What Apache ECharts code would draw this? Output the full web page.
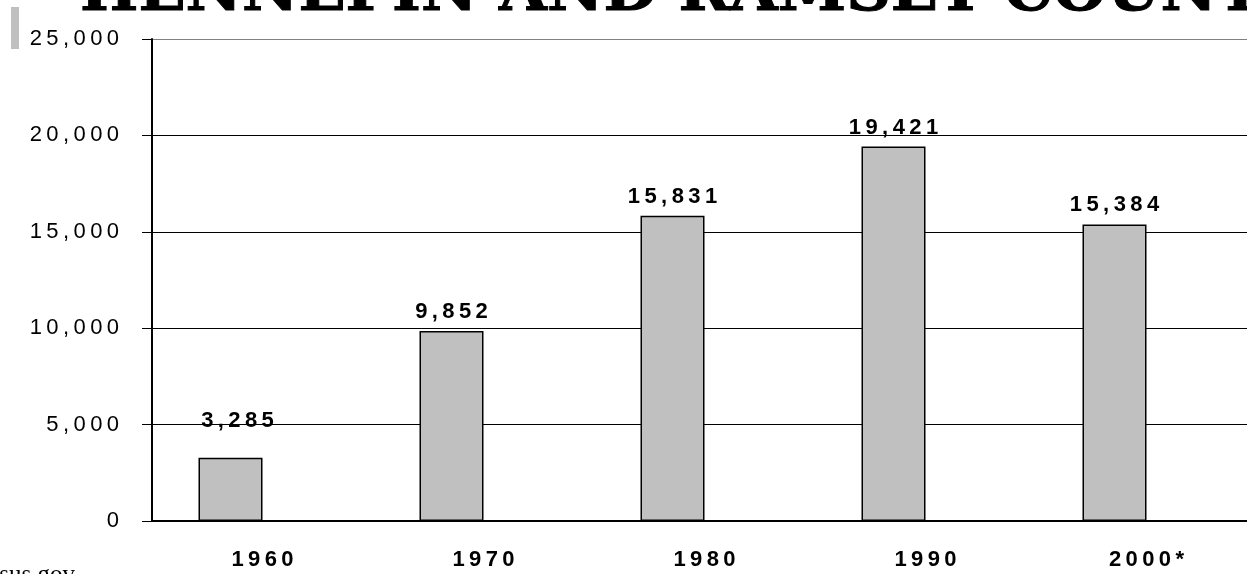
<!DOCTYPE html>
<html lang="en">
<head>
    <meta charset="utf-8">
    <title>Hennepin and Ramsey Counties</title>
    <style>
        html, body { margin: 0; padding: 0; background: #fff; }
        #chart { width: 1247px; height: 574px; }
    </style>
</head>
<body>
<div id='chart'></div>
<script src='https://cdn.jsdelivr.net/npm/echarts@6/dist/echarts.min.js'></script>
<script>
var years = ['1960', '1970', '1980', '1990', '2000*'];
var counts = [3285, 9852, 15831, 19421, 15384];
var spacer = [null, null, null, null, null];
var titleText = 'HENNEPIN AND RAMSEY COUNTIES';
var sourceText = 'www.census.gov';

// spread letters out like the original chart text
function spaced(s) {
    return String(s).split('').join('\u2009');
}
function fmt(v) {
    return spaced(Number(v).toLocaleString('en-US'));
}

var myChart = echarts.init(document.getElementById('chart'));
myChart.setOption({
    animation: false,
    backgroundColor: '#fff',
    grid: { left: 152, top: 39, width: 1105, height: 482, outerBoundsMode: 'none' },
    graphic: [
        { type: 'rect', shape: { x: 11, y: 7, width: 8, height: 42 }, style: { fill: '#c0c0c0' } },
        {
            type: 'text', x: 80, y: -36, scaleX: 1.03,
            style: {
                text: titleText, font: 'bold 60px "DejaVu Serif"', fill: '#000',
                stroke: '#000', lineWidth: 1, verticalAlign: 'top'
            }
        },
        {
            type: 'text', right: 1172, top: 563,
            style: { text: sourceText, font: '25px "Liberation Serif"', fill: '#000' }
        }
    ],
    xAxis: {
        type: 'category',
        data: years,
        axisLine: { lineStyle: { color: '#000', width: 2 } },
        axisTick: { length: 8, lineStyle: { color: '#000', width: 2 } },
        axisLabel: {
            margin: 28,
            color: '#000',
            fontFamily: 'Liberation Sans',
            fontWeight: 'bold',
            fontSize: 22,
            formatter: spaced
        }
    },
    yAxis: {
        type: 'value',
        min: 0,
        max: 25000,
        interval: 5000,
        axisLine: { show: true, lineStyle: { color: '#000', width: 2 } },
        axisTick: { show: true, length: 10, lineStyle: { color: '#000', width: 1 } },
        axisLabel: {
            margin: 33,
            color: '#000',
            fontFamily: 'Liberation Sans',
            fontSize: 22,
            formatter: fmt
        },
        splitLine: {
            lineStyle: { color: ['#000', '#000', '#000', '#000', '#000', '#808080'], width: 1 }
        }
    },
    series: [
        {
            type: 'bar',
            data: counts.map(function (v, i) {
                var d = { value: v };
                if (i === 0) d.label = { offset: [7, -18] };
                return d;
            }),
            barWidth: 64,
            barGap: '0%',
            itemStyle: { color: '#c0c0c0', borderColor: '#000', borderWidth: 1.5 },
            label: {
                show: true,
                position: 'top',
                distance: 8,
                color: '#000',
                fontFamily: 'Liberation Sans',
                fontWeight: 'bold',
                fontSize: 22,
                formatter: function (p) { return fmt(p.value); }
            }
        },
        {
            type: 'bar',
            data: spacer,
            barWidth: 64,
            barGap: '0%'
        }
    ]
});
</script>
</body>
</html>
